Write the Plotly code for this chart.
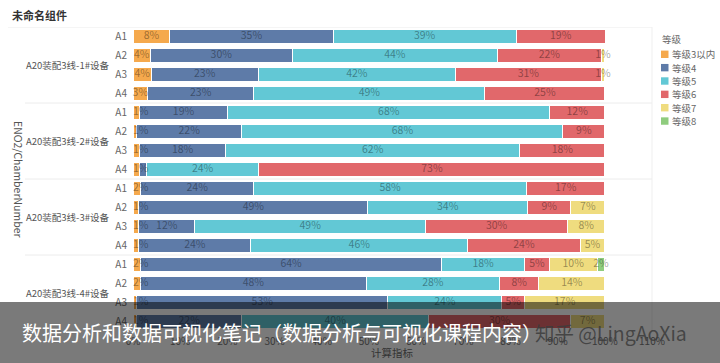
import plotly.graph_objects as go

# ---------------- data ----------------
groups = ["A20装配3线-1#设备", "A20装配3线-2#设备", "A20装配3线-3#设备", "A20装配3线-4#设备"]
subs = ["A1", "A2", "A3", "A4"]
series_names = ["等级3以内", "等级4", "等级5", "等级6", "等级7", "等级8"]
series_colors = ["#F5A94D", "#5E7BA8", "#62C8D5", "#E1686B", "#EFDC7F", "#8FCC7E"]

lvl3 = [7.8, 3.7, 3.9, 3.1, 1.3, 0.7, 1.4, 1.3, 1.6, 1.2, 1.2, 1.2, 1.6, 1.6, 0.8, 0.8]
lvl4 = [34.6, 30.0, 22.6, 22.5, 18.8, 22.4, 18.2, 1.5, 24.0, 48.6, 11.9, 23.8, 63.8, 47.8, 53.2, 22.2]
lvl5 = [38.8, 43.6, 41.9, 49.0, 68.2, 68.0, 62.4, 23.9, 57.8, 33.8, 48.9, 45.9, 17.6, 28.3, 24.2, 39.7]
lvl6 = [18.9, 21.9, 30.8, 25.4, 11.7, 8.9, 18.0, 73.3, 16.6, 9.2, 30.1, 23.9, 5.2, 8.3, 4.8, 30.0]
lvl7 = [0, 0.8, 0.8, 0, 0, 0, 0, 0, 0, 7.2, 7.9, 5.2, 10.2, 14.0, 17.0, 7.3]
lvl8 = [0, 0, 0, 0, 0, 0, 0, 0, 0, 0, 0, 0, 1.6, 0, 0, 0]
series_values = [lvl3, lvl4, lvl5, lvl6, lvl7, lvl8]

title_text = "未命名组件"
yaxis_title = "ENO2/ChamberNumber"
xaxis_title = "计算指标"
legend_title = "等级"
caption = "数据分析和数据可视化笔记（数据分析与可视化课程内容）"
watermark = "知乎 @LingAoXia"

# ---------------- layout geometry ----------------
W, H = 720, 363
L, R, T, B = 133, 68, 27, 32
PW, PH = W - L - R, H - T - B
XMAX = 1.1
FONT = "Noto Sans CJK SC, Noto Sans, sans-serif"
LABEL_COLOR = "rgba(0,0,0,0.38)"


def px_x(p):
    return (p - L) / PW


def px_y(p):
    return (H - B - p) / PH


cats = [f"{g}|{s}" for g in groups for s in subs]
n = len(cats)

fig = go.Figure()
for name, color, vals in zip(series_names, series_colors, series_values):
    fig.add_trace(go.Bar(
        name=name,
        y=cats,
        x=[v / 100 for v in vals],
        orientation="h",
        marker=dict(color=color, line=dict(color="white", width=1)),
        textposition="none",
        hoverinfo="skip",
        showlegend=False,
    ))

# segment labels drawn on top of all bars (so small labels can overflow)
lab_x, lab_y, lab_t, lab_pos = [], [], [], []
for ri in range(n):
    row = [sv[ri] for sv in series_values]
    nz = [k for k, v in enumerate(row) if v > 0]
    start = 0.0
    for si, v in enumerate(row):
        if v <= 0:
            continue
        txt = f"{int(v + 0.5)}%"
        seg_px = v / 100 * PW / XMAX
        txt_px = 6.2 * len(txt)
        small = seg_px < txt_px + 1
        if small and si not in (nz[0], nz[-1]):
            start += v
            continue
        if small and si == nz[0]:
            lab_x.append(start / 100)
            lab_pos.append("middle right")
        else:
            lab_x.append((start + v / 2) / 100)
            lab_pos.append("middle center")
        lab_y.append(cats[ri])
        lab_t.append(txt)
        start += v

fig.add_trace(go.Scatter(
    x=lab_x, y=lab_y, text=lab_t, mode="text", textposition=lab_pos,
    textfont=dict(family=FONT, size=10.5, color=LABEL_COLOR),
    cliponaxis=False, hoverinfo="skip", showlegend=False,
))

shapes = []
annotations = []

# group separators
for b in [-0.5, 3.5, 7.5, 11.5]:
    shapes.append(dict(type="line", xref="paper", yref="y",
                       x0=px_x(8 if b < 0 else 25), x1=1, y0=b, y1=b,
                       line=dict(color="#ECECEC", width=1), layer="below"))
# right border
shapes.append(dict(type="line", xref="paper", yref="paper", x0=1, x1=1, y0=0, y1=1,
                   line=dict(color="#EFEFEF", width=1), layer="below"))

# group labels
for gi, g in enumerate(groups):
    annotations.append(dict(text=g, xref="paper", yref="y", x=px_x(67), y=gi * 4 + 1.5,
                            xanchor="center", yanchor="middle", showarrow=False,
                            font=dict(family=FONT, size=9.5, color="#555")))

# y axis title
annotations.append(dict(text=yaxis_title, xref="paper", yref="paper", x=px_x(19), y=0.5,
                        textangle=90, showarrow=False, xanchor="center", yanchor="middle",
                        font=dict(family=FONT, size=10.5, color="#555")))

# chart title
annotations.append(dict(text=f"<b>{title_text}</b>", xref="paper", yref="paper",
                        x=px_x(10), y=px_y(15), xanchor="left", yanchor="middle",
                        showarrow=False, font=dict(family=FONT, size=11, color="#333")))

# manual legend
annotations.append(dict(text=legend_title, xref="paper", yref="paper", x=px_x(660), y=px_y(39),
                        xanchor="left", yanchor="middle", showarrow=False,
                        font=dict(family=FONT, size=9.5, color="#666")))
for i, (name, color) in enumerate(zip(series_names, series_colors)):
    cy = 54.3 + i * 13.35
    shapes.append(dict(type="rect", xref="paper", yref="paper",
                       x0=px_x(661), x1=px_x(668.5), y0=px_y(cy + 3.7), y1=px_y(cy - 3.7),
                       fillcolor=color, line=dict(width=0)))
    annotations.append(dict(text=name, xref="paper", yref="paper", x=px_x(670), y=px_y(cy),
                            xanchor="left", yanchor="middle", showarrow=False,
                            font=dict(family=FONT, size=9.5, color="#666")))

# x axis title (sits under the dark band in the reference, hence dark colour)
annotations.append(dict(text=xaxis_title, xref="paper", yref="paper", x=0.5, y=px_y(352),
                        xanchor="center", yanchor="middle", showarrow=False,
                        font=dict(family=FONT, size=10.5, color="#333")))

# overlay band with caption
shapes.append(dict(type="rect", xref="paper", yref="paper",
                   x0=px_x(-2), x1=px_x(W + 2), y0=px_y(H + 2), y1=px_y(302),
                   fillcolor="rgba(0,0,0,0.52)", line=dict(width=0), layer="above"))
annotations.append(dict(text=caption, xref="paper", yref="paper", x=px_x(20), y=px_y(332),
                        xanchor="left", yanchor="middle", showarrow=False,
                        font=dict(family=FONT, size=20, color="white")))
annotations.append(dict(text=watermark, xref="paper", yref="paper", x=px_x(533), y=px_y(332),
                        xanchor="left", yanchor="middle", showarrow=False,
                        font=dict(family=FONT, size=19.5, color="rgba(60,60,60,0.85)")))

fig.update_layout(
    width=W, height=H,
    margin=dict(l=L, r=R, t=T, b=B, autoexpand=False),
    paper_bgcolor="white", plot_bgcolor="white",
    barmode="stack", bargap=0.28,
    font=dict(family=FONT, size=10, color="#666"),
    xaxis=dict(range=[0, XMAX], dtick=0.1, tick0=0, tickformat=".0%", showgrid=False,
               zeroline=False, showline=False, ticks="", ticklabelstandoff=3,
               tickfont=dict(family=FONT, size=10, color="#777")),
    yaxis=dict(type="category", categoryorder="array", categoryarray=cats,
               range=[n - 0.5, -0.5], tickvals=cats, ticktext=[c.split("|")[1] for c in cats],
               showgrid=False, zeroline=False, showline=False, ticks="",
               ticklabelstandoff=5,
               tickfont=dict(family=FONT, size=10, color="#666")),
    shapes=shapes,
    annotations=annotations,
)

fig.write_html("out.html", config={"displayModeBar": False},
               post_script="document.body.style.margin='0px';")
